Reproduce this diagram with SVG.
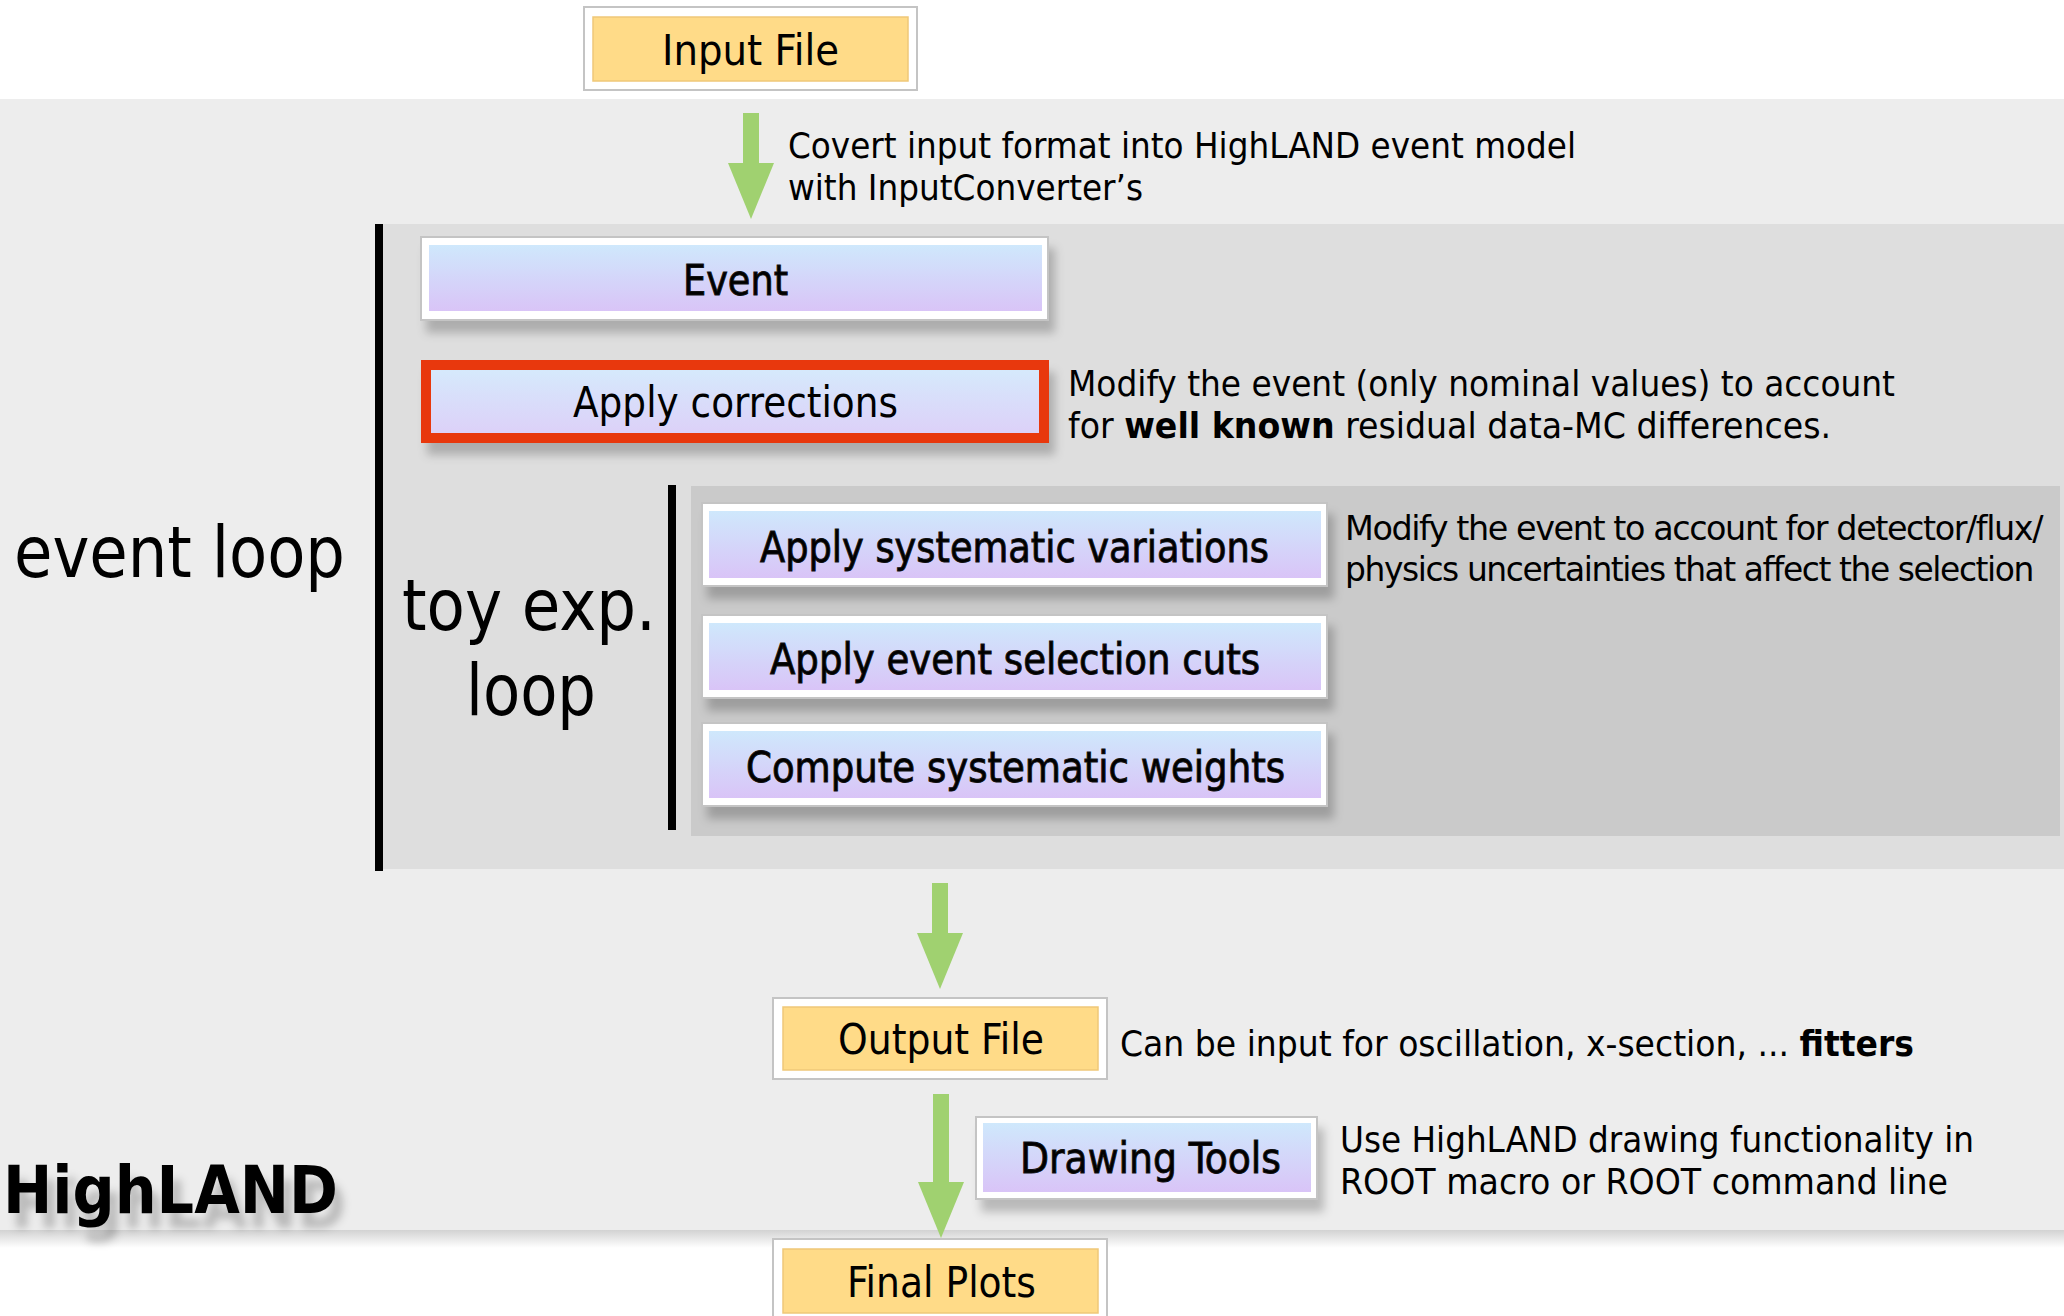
<svg xmlns="http://www.w3.org/2000/svg" width="2064" height="1316" viewBox="0 0 2064 1316">
  <style>
    text { font-family: 'DejaVu Sans Condensed', 'DejaVu Sans', 'Liberation Sans', sans-serif; fill: #000; }
    .box-label { font-size: 42px; }
    .heavy { stroke: #111; stroke-width: 0.9; }
    .note { font-size: 36px; }
    .tight { font-size: 34px; letter-spacing: -1.3px; }
    .loop { font-size: 72px; }
    .frame { fill: #ffffff; stroke: #c4c4c4; stroke-width: 2; }
    .yellow { fill: #ffdb88; stroke: #efc878; stroke-width: 1.5; }
    .lav { fill: url(#lavGrad); }
    .arrow { stroke: #a0d170; stroke-width: 16; fill: none; marker-end: url(#head); }
  </style>
  <defs>
    <linearGradient id="lavGrad" x1="0" y1="0" x2="0" y2="1">
      <stop offset="0" stop-color="#cfe8fc"/>
      <stop offset="1" stop-color="#d9c4f7"/>
    </linearGradient>
    <linearGradient id="lavGradLight" x1="0" y1="0" x2="0" y2="1">
      <stop offset="0" stop-color="#d5ebfc"/>
      <stop offset="1" stop-color="#ddcff8"/>
    </linearGradient>
    <linearGradient id="bandShadow" x1="0" y1="0" x2="0" y2="1">
      <stop offset="0" stop-color="#d2d2d2"/>
      <stop offset="1" stop-color="#ffffff"/>
    </linearGradient>
    <filter id="shadow" x="-5%" y="-20%" width="115%" height="160%">
      <feDropShadow dx="6" dy="12" stdDeviation="5" flood-color="#000" flood-opacity="0.22"/>
    </filter>
    <filter id="textShadow" x="-10%" y="-30%" width="130%" height="190%">
      <feDropShadow dx="8" dy="15" stdDeviation="4.5" flood-color="#000" flood-opacity="0.22"/>
    </filter>
    <marker id="head" markerUnits="userSpaceOnUse" markerWidth="56" markerHeight="46" viewBox="0 0 56 46" refX="0" refY="23" orient="auto">
      <path d="M0,0 L56,23 L0,46 Z" fill="#a0d170"/>
    </marker>
  </defs>

  <!-- background -->
  <rect x="0" y="0" width="2064" height="1316" fill="#ffffff"/>

  <!-- HighLAND band -->
  <g id="highland-band">
    <rect x="0" y="1230" width="2064" height="18" fill="url(#bandShadow)"/>
    <rect x="0" y="99" width="2064" height="1131" fill="#ededed"/>
  </g>

  <!-- event loop region -->
  <g id="event-loop-region">
    <rect x="383" y="224" width="1681" height="645" fill="#dedede"/>
    <rect x="375" y="224" width="8" height="647" fill="#000"/>
  </g>

  <!-- toy experiment loop region -->
  <g id="toy-loop-region">
    <rect x="691" y="486" width="1369" height="350" fill="#cacaca"/>
    <rect x="668" y="485" width="8" height="345" fill="#000"/>
  </g>

  <!-- region labels -->
  <text class="loop" x="14" y="577" textLength="331" lengthAdjust="spacingAndGlyphs">event loop</text>
  <text class="loop" x="402" y="630" textLength="254" lengthAdjust="spacingAndGlyphs">toy exp.</text>
  <text class="loop" x="466" y="715" textLength="130" lengthAdjust="spacingAndGlyphs">loop</text>
  <text x="3" y="1213" font-size="66" font-weight="bold" textLength="335" lengthAdjust="spacingAndGlyphs" filter="url(#textShadow)">HighLAND</text>

  <!-- annotations -->
  <text class="note" x="788" y="158" textLength="788" lengthAdjust="spacingAndGlyphs">Covert input format into HighLAND event model</text>
  <text class="note" x="788" y="200" textLength="355" lengthAdjust="spacingAndGlyphs">with InputConverter’s</text>
  <text class="note" x="1068" y="396" textLength="827" lengthAdjust="spacingAndGlyphs">Modify the event (only nominal values) to account</text>
  <text class="note" x="1068" y="438" textLength="763" lengthAdjust="spacingAndGlyphs">for <tspan font-weight="bold">well known</tspan> residual data-MC differences.</text>
  <text class="tight" x="1345" y="540" textLength="697" lengthAdjust="spacingAndGlyphs">Modify the event to account for detector/flux/</text>
  <text class="tight" x="1345" y="581" textLength="688" lengthAdjust="spacingAndGlyphs">physics uncertainties that affect the selection</text>
  <text class="note" x="1120" y="1056" textLength="794" lengthAdjust="spacingAndGlyphs">Can be input for oscillation, x-section, ... <tspan font-weight="bold">fitters</tspan></text>
  <text class="note" x="1340" y="1152" textLength="634" lengthAdjust="spacingAndGlyphs">Use HighLAND drawing functionality in</text>
  <text class="note" x="1340" y="1194" textLength="608" lengthAdjust="spacingAndGlyphs">ROOT macro or ROOT command line</text>

  <!-- nodes -->
  <g id="input-file">
    <rect class="frame" x="584" y="7" width="333" height="83"/>
    <rect class="yellow" x="593" y="17" width="315" height="64"/>
    <text class="box-label" x="662" y="65" font-size="44" textLength="177" lengthAdjust="spacingAndGlyphs">Input File</text>
  </g>

  <g id="event">
    <rect class="frame" x="421" y="237" width="627" height="83" filter="url(#shadow)"/>
    <rect class="lav" x="429" y="245" width="613" height="66"/>
    <text class="box-label heavy" x="683" y="295" textLength="105" lengthAdjust="spacingAndGlyphs">Event</text>
  </g>

  <g id="apply-corrections">
    <rect x="426" y="365" width="618" height="73" fill="url(#lavGradLight)" stroke="#e8390d" stroke-width="10" filter="url(#shadow)"/>
    <text class="box-label" x="573" y="417" textLength="325" lengthAdjust="spacingAndGlyphs">Apply corrections</text>
  </g>

  <g id="apply-systematic-variations">
    <rect class="frame" x="702" y="503" width="625" height="83" filter="url(#shadow)"/>
    <rect class="lav" x="709" y="511" width="612" height="67"/>
    <text class="box-label heavy" x="760" y="562" font-size="43" textLength="509" lengthAdjust="spacingAndGlyphs">Apply systematic variations</text>
  </g>

  <g id="apply-event-selection-cuts">
    <rect class="frame" x="702" y="615" width="625" height="83" filter="url(#shadow)"/>
    <rect class="lav" x="709" y="623" width="612" height="67"/>
    <text class="box-label heavy" x="770" y="674" font-size="43" textLength="490" lengthAdjust="spacingAndGlyphs">Apply event selection cuts</text>
  </g>

  <g id="compute-systematic-weights">
    <rect class="frame" x="702" y="723" width="625" height="83" filter="url(#shadow)"/>
    <rect class="lav" x="709" y="731" width="612" height="67"/>
    <text class="box-label heavy" x="746" y="782" font-size="43" textLength="539" lengthAdjust="spacingAndGlyphs">Compute systematic weights</text>
  </g>

  <g id="output-file">
    <rect class="frame" x="773" y="998" width="334" height="81"/>
    <rect class="yellow" x="783" y="1007" width="315" height="63"/>
    <text class="box-label" x="838" y="1054" font-size="43" textLength="206" lengthAdjust="spacingAndGlyphs">Output File</text>
  </g>

  <g id="drawing-tools">
    <rect class="frame" x="976" y="1117" width="341" height="82" filter="url(#shadow)"/>
    <rect class="lav" x="983" y="1123" width="328" height="69"/>
    <text class="box-label heavy" x="1020" y="1173" textLength="261" lengthAdjust="spacingAndGlyphs">Drawing Tools</text>
  </g>

  <g id="final-plots">
    <rect class="frame" x="773" y="1239" width="334" height="90"/>
    <rect class="yellow" x="783" y="1249" width="315" height="64"/>
    <text class="box-label" x="847" y="1297" font-size="43" textLength="189" lengthAdjust="spacingAndGlyphs">Final Plots</text>
  </g>

  <!-- connectors -->
  <g id="connectors">
    <line class="arrow" x1="751" y1="113" x2="751" y2="163"/>
    <line class="arrow" x1="940" y1="883" x2="940" y2="933"/>
    <line class="arrow" x1="941" y1="1094" x2="941" y2="1182"/>
  </g>
</svg>
